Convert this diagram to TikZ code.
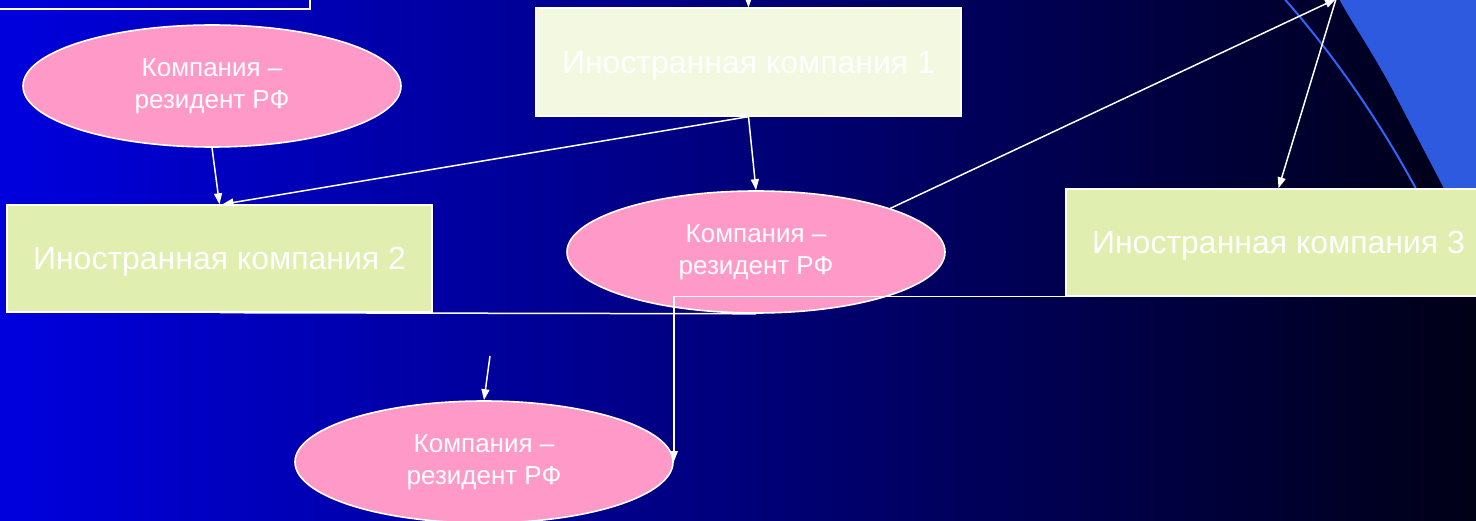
\documentclass[tikz,border=0pt]{standalone}
\usepackage{fontspec}
\setmainfont{Liberation Sans}
\usepackage{xcolor}
\usepackage{tikz}
\usetikzlibrary{shapes.geometric, arrows.meta}
\definecolor{slideleft}{RGB}{0,0,222}
\definecolor{slideright}{RGB}{0,0,22}
\definecolor{firmlight}{RGB}{243,248,224}
\definecolor{firmgreen}{RGB}{224,238,176}
\definecolor{residentpink}{RGB}{255,153,200}
\definecolor{cornerblue}{RGB}{45,90,222}
\definecolor{arcblue}{RGB}{48,100,250}
\tikzstyle{firm} = [rectangle, minimum width=425pt, minimum height=107pt, inner sep=0pt, text centered, text height=23pt, text depth=0pt, draw=white, line width=1.4pt, fill=firmgreen, text=white, font=\fontsize{32}{38}\selectfont]
\tikzstyle{resident} = [ellipse, minimum width=378pt, minimum height=122pt, inner sep=0pt, align=center, draw=white, line width=1.6pt, fill=residentpink, text=white, font=\fontsize{26}{32}\selectfont]
\tikzstyle{link} = [draw=white, line width=1.5pt]
\tikzstyle{arr} = [link, -{Stealth[length=11pt, width=8pt, inset=0pt]}]

\begin{document}
\begin{tikzpicture}[x=1pt, y=-1pt]
		\clip (0,0) rectangle (1476,521);
		\shade[left color=slideleft, right color=slideright] (0,0) rectangle (1476,521);
		% corner decoration
		\fill[cornerblue] (1337,-5) .. controls (1350,20) and (1365,40) .. (1390,85) -- (1450,200) -- (1490,200) -- (1490,-5) -- cycle;
		\draw[arcblue, line width=2pt] (1281,-5) .. controls (1330,50) and (1380,120) .. (1422,200);
		\node (Head)[rectangle, draw=white, line width=1.4pt, minimum width=330pt, minimum height=100pt] at (145,-41) {};
		\node (Firm 1)[firm, fill=firmlight, minimum height=108pt] at (748.5,62) {Иностранная компания 1};
		\node (Firm 2)[firm] at (219.5,258.5) {Иностранная компания 2};
		\node (Firm 3)[firm] at (1278.5,242.5) {Иностранная компания 3};
		\node (Resident A)[resident] at (212,86) {Компания –\\резидент РФ};
		\node (Resident B)[resident] at (756,252) {Компания –\\резидент РФ};
		\node (Resident C)[resident] at (484,462) {Компания –\\резидент РФ};
		\coordinate (Above) at (748,-30);
		\coordinate (Parent) at (1336,-1);
		\coordinate (Stub) at (490,356);
		\draw [arr] (Above) -- (Firm 1.north);
		\draw [arr] (Resident A.south) -- (Firm 2.north);
		\draw [arr] (Firm 1.south) -- ([xshift=3pt]Firm 2.north);
		\draw [arr] (Firm 1.south) -- (Resident B.north);
		\draw [arr] (Resident B.18) -- (Parent);
		\draw [arr] (Parent) -- (Firm 3.north);
		\draw [link] (Firm 2.south) -- (Resident B.south);
		\draw [arr] (Firm 3.south) -| (Resident C.east);
		\draw [arr] (Stub) -- (Resident C.north);
	\end{tikzpicture}
\end{document}
